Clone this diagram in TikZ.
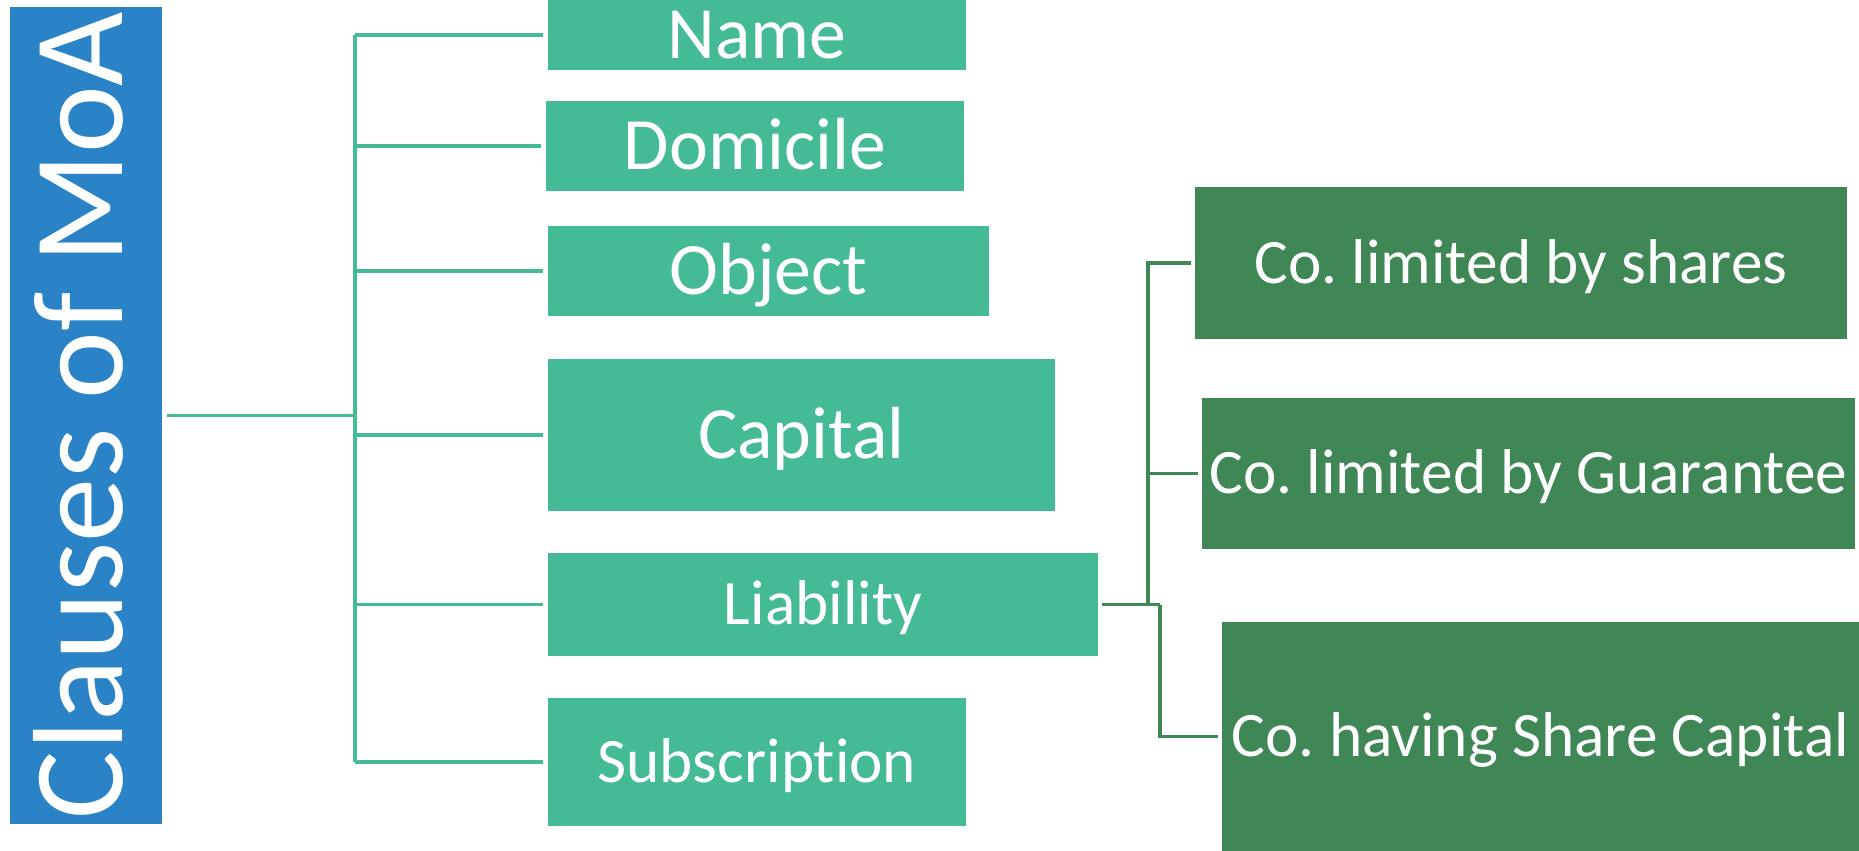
\documentclass[tikz,border=0pt]{standalone}
\usepackage{fontspec}
\setmainfont{Carlito}[Ligatures=NoCommon]
\frenchspacing
\definecolor{moablue}{HTML}{2A83C6}
\definecolor{clause}{HTML}{44BA97}
\definecolor{liab}{HTML}{3F8856}
\begin{document}
\begin{tikzpicture}[x=0.01cm, y=-0.01cm,
  basebox/.style={rectangle, inner sep=0pt, text=white, text depth=0pt},
  clausebox/.style={basebox, fill=clause},
  typebox/.style={basebox, fill=liab, font=\fontsize{18}{22}\selectfont, text height=0.40cm},
  bigtext/.style={font=\fontsize{21}{25}\selectfont, text height=0.466cm},
  midtext/.style={font=\fontsize{18}{22}\selectfont, text height=0.40cm},
  clauseline/.style={draw=clause, line width=1pt},
  typeline/.style={draw=liab, line width=1pt, shorten >=0.03cm}]
\useasboundingbox (0,0) rectangle (1859,851);

% title bar
\node[basebox, fill=moablue, rotate=90, minimum width=8.17cm, minimum height=1.52cm,
      text height=0.81cm, text depth=0.09cm, font=\fontsize{36.5}{40}\selectfont] (title) at (86,415.5) {Clauses of MoA};

% clauses
\node[clausebox, bigtext, minimum width=4.18cm, minimum height=0.70cm] (name) at (757,35) {Name};
\node[clausebox, bigtext, minimum width=4.18cm, minimum height=0.90cm] (domicile) at (755,146) {Domicile};
\node[clausebox, bigtext, minimum width=4.41cm, minimum height=0.90cm] (object) at (768.5,271) {Object};
\node[clausebox, bigtext, minimum width=5.07cm, minimum height=1.52cm] (capital) at (801.5,435) {Capital};
\node[clausebox, midtext, minimum width=5.50cm, minimum height=1.03cm] (liability) at (823,604.5) {Liability};
\node[clausebox, midtext, minimum width=4.18cm, minimum height=1.28cm] (subscription) at (757,762) {Subscription};

% kinds of liability
\node[typebox, minimum width=6.52cm, minimum height=1.52cm] (shares) at (1521,263) {Co. limited by shares};
\node[typebox, minimum width=6.53cm, minimum height=1.51cm] (guarantee) at (1528.5,473.5) {Co. limited by Guarantee};
\node[typebox, minimum width=6.37cm, minimum height=2.29cm] (sharecap) at (1540.5,736.5) {Co. having Share Capital};

% bracket from the title to the clauses (the rotated title's south side faces right)
\coordinate (bus) at (355,415.5);
\draw[clauseline, shorten <=0.04cm] (title.south) -- (bus);
\draw[clauseline] (bus |- name) -- (bus |- subscription);
\foreach \c in {name,domicile,object,capital,liability,subscription}
  \draw[clauseline, shorten >=0.04cm] (bus |- \c) -- (\c.west);

% bracket from liability to its kinds
\coordinate (ja) at (1148,604.5);
\coordinate (jb) at (1160,604.5);
\draw[draw=liab, line width=1pt, shorten <=0.03cm] (liability.east) -- (jb);
\draw[typeline] (ja) |- (shares.west);
\draw[typeline] (ja) |- (guarantee.west);
\draw[typeline] (jb) |- (sharecap.west);
\end{tikzpicture}
\end{document}
